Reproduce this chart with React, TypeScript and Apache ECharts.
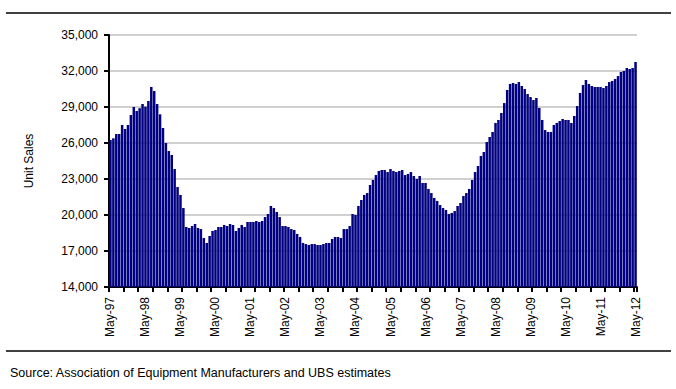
import React, { useEffect, useRef } from "react";
import * as echarts from "echarts";

const MONTHS = ["Jan", "Feb", "Mar", "Apr", "May", "Jun", "Jul", "Aug", "Sep", "Oct", "Nov", "Dec"];
const START_YEAR = 1997;
const START_MONTH = 4; // May
const MONTH_COUNT = 181; // May-97 .. May-12

// Unit sales, monthly
const sales1997to2000 = [
  26250, 26390, 26750, 26750, 27500, 27170, 27500, 28330, 29000, 28670, 28900, 29250,
  29030, 29500, 30670, 30330, 29250, 28390, 27250, 26000, 25330, 25000, 23830, 22330,
  21670, 20580, 19000, 18920, 19080, 19250, 18920, 18830, 18080, 17670, 18250, 18670,
  18750, 19000, 19000, 19170, 19080, 19250, 19170,
];
const sales2000to2004 = [
  18670, 18920, 19170, 19000, 19420, 19420, 19420, 19500, 19420, 19500, 19830, 20080,
  20750, 20580, 20250, 19830, 19080, 19080, 19000, 18830, 18750, 18420, 18170, 17670,
  17580, 17500, 17580, 17580, 17500, 17500, 17580, 17670, 17670, 18000, 18170, 18170,
  18080, 18830, 18830, 19080, 20080, 20000, 20750, 21250, 21670,
];
const sales2004to2008 = [
  21830, 22500, 22920, 23330, 23670, 23750, 23750, 23580, 23830, 23670, 23580, 23670,
  23750, 23330, 23420, 23580, 23250, 23000, 23250, 22670, 22670, 22170, 21830, 21420,
  21170, 20830, 20580, 20420, 20080, 20170, 20330, 20750, 21000, 21580, 21830, 22170,
  22920, 23580, 24080, 24920, 25250, 26080, 26500, 26920, 27670,
];
const sales2008to2012 = [
  27920, 28500, 29330, 30420, 30920, 31000, 30920, 31080, 30750, 30500, 30080, 29830,
  29580, 29750, 28920, 27920, 27080, 26920, 26920, 27500, 27670, 27830, 28000, 27920,
  27920, 27670, 28250, 29080, 30170, 30830, 31250, 30920, 30750, 30670, 30670, 30670,
  30580, 30750, 31080, 31170, 31330, 31580, 31920, 32000, 32250, 32170, 32250, 32750,
];

const Y_MIN = 14000;
const Y_MAX = 35000;
const Y_STEP = 3000;

const SOURCE_TEXT = "Source: Association of Equipment Manufacturers and UBS estimates";
const Y_NAME = "Unit Sales";

const FONT = "'Liberation Sans', Arial, sans-serif";

function buildCategories(): string[] {
  const out: string[] = [];
  for (let i = 0; i < MONTH_COUNT; i++) {
    const m = (START_MONTH + i) % 12;
    const y = START_YEAR + Math.floor((START_MONTH + i) / 12);
    out.push(MONTHS[m] + "-" + String(y % 100).padStart(2, "0"));
  }
  return out;
}

export default function App() {
  const ref = useRef<HTMLDivElement>(null);

  useEffect(() => {
    if (!ref.current) return;
    const chart = echarts.init(ref.current, null, { renderer: "svg" });
    const categories = buildCategories();
    const values = [...sales1997to2000, ...sales2000to2004, ...sales2004to2008, ...sales2008to2012];

    chart.setOption({
      animation: false,
      backgroundColor: "#ffffff",
      textStyle: { fontFamily: FONT },
      grid: {
        left: 109,
        right: 39,
        top: 35,
        bottom: 102,
        containLabel: false,
        outerBoundsMode: "none",
      },
      xAxis: {
        type: "category",
        data: categories,
        boundaryGap: true,
        axisLine: { show: true, lineStyle: { color: "#000", width: 2 } },
        axisTick: { show: true, interval: 4, length: 5, lineStyle: { color: "#000", width: 2 } },
        axisLabel: {
          interval: 11,
          rotate: 90,
          fontSize: 12,
          color: "#000",
          fontFamily: FONT,
          margin: 10,
        },
        splitLine: { show: false },
      },
      yAxis: {
        type: "value",
        min: Y_MIN,
        max: Y_MAX,
        interval: Y_STEP,
        name: Y_NAME,
        nameLocation: "middle",
        nameGap: 74,
        nameRotate: 90,
        nameTextStyle: { fontSize: 12, color: "#000", fontFamily: FONT },
        axisLine: { show: true, lineStyle: { color: "#000", width: 2 } },
        axisTick: { show: true, length: 5, lineStyle: { color: "#000", width: 2 } },
        axisLabel: {
          fontSize: 12,
          color: "#000",
          fontFamily: FONT,
          margin: 11,
          formatter: (v: number) => v.toLocaleString("en-US"),
        },
        splitLine: { show: true, lineStyle: { color: "#c0c0c0", width: 1.5 } },
      },
      series: [
        {
          type: "bar",
          data: values,
          barCategoryGap: "14%",
          itemStyle: { color: "#000080" },
        },
      ],
      graphic: [
        {
          type: "line",
          shape: { x1: 6, y1: 13, x2: 671, y2: 13 },
          style: { stroke: "#000", lineWidth: 1.5 },
        },
        {
          type: "line",
          shape: { x1: 6, y1: 351, x2: 671, y2: 351 },
          style: { stroke: "#000", lineWidth: 1.5 },
        },
        {
          type: "text",
          x: 10,
          y: 373,
          style: {
            text: SOURCE_TEXT,
            fontSize: 12.5,
            fontFamily: FONT,
            fill: "#000",
            textVerticalAlign: "middle",
            verticalAlign: "middle",
          },
        },
      ],
    });

    return () => {
      chart.dispose();
    };
  }, []);

  return <div ref={ref} style={{ width: 676, height: 389, position: "absolute", left: 0, top: 0 }} />;
}
